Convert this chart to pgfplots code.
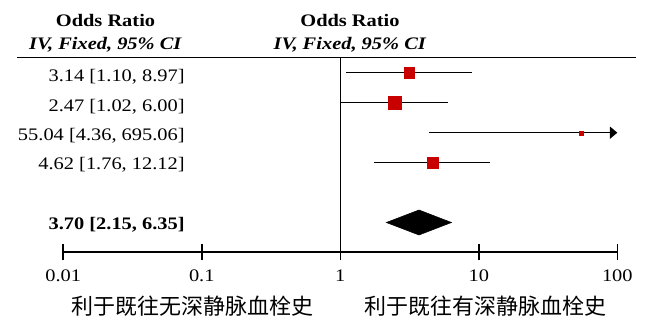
\documentclass[border=0pt]{standalone}
\usepackage{fontspec}
\setmainfont{Liberation Serif}[FakeStretch=1.16]
\newfontfamily\cjk{Noto Sans CJK SC}
\usepackage{pgfplots}
\pgfplotsset{compat=1.18}
\usetikzlibrary{arrows.meta}
\definecolor{sqred}{RGB}{200,0,0}

\begin{document}
\fontsize{13.2}{15}\selectfont
\begin{tikzpicture}[x=0.75pt,y=0.75pt]
\useasboundingbox (-63.3,-67.7) rectangle (584.7,252.3);
\begin{axis}[
  at={(0,0)}, anchor=south west,
  scale only axis, width=415.5pt, height=146.1pt,
  xmode=log, xmin=0.01, xmax=100, ymin=0, ymax=194.8,
  clip=false,
  axis y line=none, axis x line*=bottom,
  xtick={0.01,0.1,1,10,100}, xticklabels={},
  xminorticks=false,
  tick align=center, major tick length=12pt,
  axis line style={line width=1.2pt},
  every tick/.style={black, line width=1.2pt},
]
% reference line at OR = 1
\addplot[black, line width=1.1pt] coordinates {(1,0) (1,194.8)};
% study rows: CI lines
\addplot[black, line width=1pt] coordinates {(1.10,179.6) (8.97,179.6)};
\addplot[black, line width=1pt] coordinates {(1.02,149.6) (6.00,149.6)};
\addplot[black, line width=1pt, -{Triangle[length=5.5pt,width=9pt]}] coordinates {(4.36,119.6) (100,119.6)};
\addplot[black, line width=1pt] coordinates {(1.76,89.6) (12.12,89.6)};
% squares
\addplot[only marks, mark=square*, mark size=3.94pt, mark options={fill=sqred, draw=sqred, line width=0.1pt}] coordinates {(3.14,179.6)};
\addplot[only marks, mark=square*, mark size=4.9pt, mark options={fill=sqred, draw=sqred, line width=0.1pt}] coordinates {(2.47,149.6)};
\addplot[only marks, mark=square*, mark size=1.5pt, mark options={fill=sqred, draw=sqred, line width=0.1pt}] coordinates {(55.04,119.6)};
\addplot[only marks, mark=square*, mark size=4.1pt, mark options={fill=sqred, draw=sqred, line width=0.1pt}] coordinates {(4.62,89.6)};
% overall diamond
\addplot[fill=black, draw=black] coordinates {(2.15,29.8) (3.70,42.3) (6.35,29.8) (3.70,17.3)} -- cycle;
% header line
\draw[line width=1.2pt] (axis cs:0.004634,194.8) -- (axis cs:136.5,194.8);
% headers
\node[anchor=base] at (axis cs:0.02018,225.3) {\textbf{Odds Ratio}};
\node[anchor=base] at (axis cs:0.02018,202.3) {\textbf{\textit{IV, Fixed, 95\% CI}}};
\node[anchor=base] at (axis cs:1.175,225.3) {\textbf{Odds Ratio}};
\node[anchor=base] at (axis cs:1.175,202.3) {\textbf{\textit{IV, Fixed, 95\% CI}}};
% row texts
\node[anchor=base east, inner sep=0pt] at (axis cs:0.0756,171.0) {3.14 [1.10, 8.97]};
\node[anchor=base east, inner sep=0pt] at (axis cs:0.0756,141.0) {2.47 [1.02, 6.00]};
\node[anchor=base east, inner sep=0pt] at (axis cs:0.0756,112.0) {55.04 [4.36, 695.06]};
\node[anchor=base east, inner sep=0pt] at (axis cs:0.0756,82.5) {4.62 [1.76, 12.12]};
\node[anchor=base east, inner sep=0pt] at (axis cs:0.0756,22.3) {\textbf{3.70 [2.15, 6.35]}};
% tick labels
\node[anchor=base] at (axis cs:0.01,-29.4) {0.01};
\node[anchor=base] at (axis cs:0.1,-29.4) {0.1};
\node[anchor=base] at (axis cs:1,-29.4) {1};
\node[anchor=base] at (axis cs:10,-29.4) {10};
\node[anchor=base] at (axis cs:100,-29.4) {100};
% direction labels
\node[anchor=center] at (axis cs:0.0857,-53.7) {\cjk\fontsize{16.5}{18}\selectfont 利于既往无深静脉血栓史};
\node[anchor=center] at (axis cs:11.2,-53.7) {\cjk\fontsize{16.5}{18}\selectfont 利于既往有深静脉血栓史};
\end{axis}
\end{tikzpicture}
\end{document}
